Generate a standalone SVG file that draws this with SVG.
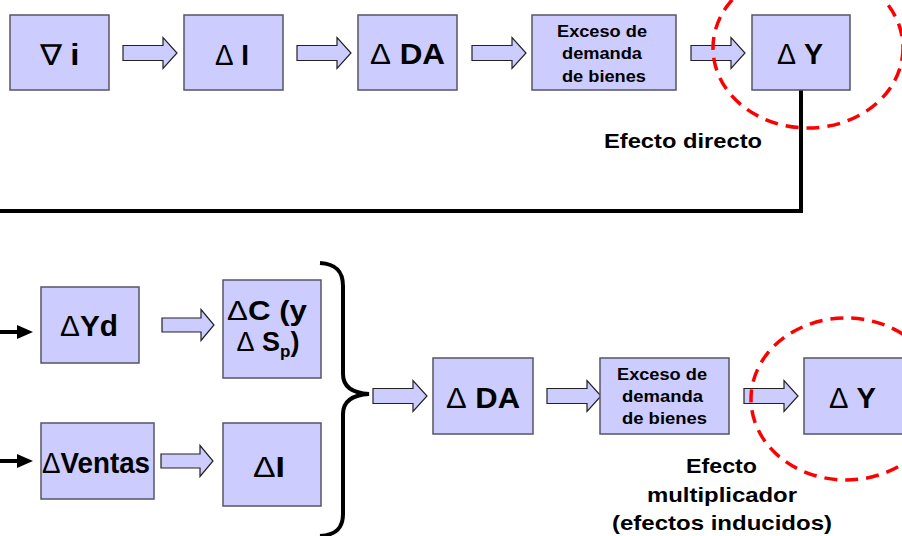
<svg xmlns="http://www.w3.org/2000/svg" width="902" height="536" viewBox="0 0 902 536">
<style>
.box{fill:#CCCCFF;stroke:#555566;stroke-width:1.5}
.blk{fill:#CCCCFF;stroke:#222;stroke-width:1.2}
.t{font-family:"Liberation Sans",Arial,sans-serif;font-weight:bold;fill:#000}
.big{font-size:29px}
.mid{font-size:27px}
.sm{font-size:17px}
.lab{font-size:21px}
.d{font-weight:normal}
.line{fill:none;stroke:#000;stroke-width:4}
.ring{fill:none;stroke:#FF0000;stroke-width:3.5;stroke-dasharray:13 8}
</style>
<defs>
<path id="ba" d="M0,-7.5 H40 V-15.5 L54,0 L40,15.5 V7.5 H0 Z"/>
<path id="ba2" d="M0,-7 H39 V-15.5 L52,0 L39,15.5 V7 H0 Z"/>
</defs>
<rect width="902" height="536" fill="#fff"/>

<g id="connectors">
<use href="#ba" class="blk" transform="translate(123,53)"/>
<use href="#ba" class="blk" transform="translate(297,53)"/>
<use href="#ba" class="blk" transform="translate(472,53)"/>
<use href="#ba" class="blk" transform="translate(691,53)"/>
<polyline class="line" points="801,90 801,211 -2,211"/>
<line x1="-2" y1="332" x2="20" y2="332" stroke="#000" stroke-width="4"/>
<polygon points="17,325 33,332 17,339" fill="#000"/>
<line x1="-2" y1="461" x2="20" y2="461" stroke="#000" stroke-width="4"/>
<polygon points="17,454 33,461 17,468" fill="#000"/>
<use href="#ba2" class="blk" transform="translate(162,325)"/>
<use href="#ba2" class="blk" transform="translate(161,461)"/>
<path class="line" d="M320,263 C336,264 343,271 343,286 L343,374 C343,386 352,393 369,394 C352,395 343,402 343,414 L343,514 C343,528 336,535 320,536"/>
<use href="#ba" class="blk" transform="translate(373,396)"/>
<use href="#ba" class="blk" transform="translate(547,396)"/>
<use href="#ba" class="blk" transform="translate(744,396)"/>
</g>

<g id="n-grad-i">
<rect class="box" x="10" y="15" width="99" height="75"/>
<text class="t big" x="59.5" y="65" text-anchor="middle" textLength="40" lengthAdjust="spacingAndGlyphs"><tspan class="d">∇</tspan> i</text>
</g>
<g id="n-dI">
<rect class="box" x="184" y="15" width="99" height="75"/>
<text class="t big" x="232" y="65" text-anchor="middle" textLength="34" lengthAdjust="spacingAndGlyphs"><tspan class="d">Δ</tspan> I</text>
</g>
<g id="n-dDA">
<rect class="box" x="358" y="15" width="99" height="75"/>
<text class="t big" x="407.5" y="64" text-anchor="middle" textLength="75" lengthAdjust="spacingAndGlyphs"><tspan class="d">Δ</tspan> DA</text>
</g>
<g id="n-exceso1">
<rect class="box" x="532" y="15" width="144" height="75"/>
<text class="t sm" x="602" y="37" text-anchor="middle" textLength="90" lengthAdjust="spacingAndGlyphs">Exceso de</text>
<text class="t sm" x="602" y="59" text-anchor="middle" textLength="80" lengthAdjust="spacingAndGlyphs">demanda</text>
<text class="t sm" x="604" y="82" text-anchor="middle" textLength="84" lengthAdjust="spacingAndGlyphs">de bienes</text>
</g>
<g id="n-dY1">
<rect class="box" x="752" y="15" width="98" height="75"/>
<text class="t big" x="800" y="64" text-anchor="middle" textLength="46" lengthAdjust="spacingAndGlyphs"><tspan class="d">Δ</tspan> Y</text>
</g>
<ellipse class="ring" cx="808" cy="48" rx="95" ry="80"/>
<text class="t lab" x="683" y="148" text-anchor="middle" textLength="158" lengthAdjust="spacingAndGlyphs">Efecto directo</text>

<g id="n-dYd">
<rect class="box" x="41" y="287" width="98" height="76"/>
<text class="t big" x="89" y="336" text-anchor="middle" textLength="58" lengthAdjust="spacingAndGlyphs"><tspan class="d">Δ</tspan>Yd</text>
</g>
<g id="n-dC">
<rect class="box" x="223" y="280" width="98" height="98"/>
<text class="t mid" x="267" y="320" text-anchor="middle" textLength="80" lengthAdjust="spacingAndGlyphs"><tspan class="d">Δ</tspan>C (y</text>
<text class="t mid" x="268" y="351" text-anchor="middle"><tspan class="d">Δ</tspan> S<tspan font-size="17" dy="6">p</tspan><tspan dy="-6">)</tspan></text>
</g>
<g id="n-dVentas">
<rect class="box" x="41" y="423" width="113" height="76"/>
<text class="t big" x="96" y="473" text-anchor="middle" textLength="108" lengthAdjust="spacingAndGlyphs"><tspan class="d">Δ</tspan>Ventas</text>
</g>
<g id="n-dI2">
<rect class="box" x="223" y="423" width="98" height="83"/>
<text class="t big" x="269" y="477" text-anchor="middle" textLength="32" lengthAdjust="spacingAndGlyphs"><tspan class="d">Δ</tspan>I</text>
</g>
<g id="n-dDA2">
<rect class="box" x="433" y="358" width="100" height="76"/>
<text class="t big" x="483" y="408" text-anchor="middle" textLength="74" lengthAdjust="spacingAndGlyphs"><tspan class="d">Δ</tspan> DA</text>
</g>
<g id="n-exceso2">
<rect class="box" x="600" y="358" width="129" height="76"/>
<text class="t sm" x="662" y="380" text-anchor="middle" textLength="90" lengthAdjust="spacingAndGlyphs">Exceso de</text>
<text class="t sm" x="662.5" y="402" text-anchor="middle" textLength="81" lengthAdjust="spacingAndGlyphs">demanda</text>
<text class="t sm" x="664.5" y="424" text-anchor="middle" textLength="85" lengthAdjust="spacingAndGlyphs">de bienes</text>
</g>
<g id="n-dY2">
<rect class="box" x="804" y="358" width="100" height="76"/>
<text class="t big" x="852.5" y="408" text-anchor="middle" textLength="47" lengthAdjust="spacingAndGlyphs"><tspan class="d">Δ</tspan> Y</text>
</g>
<ellipse class="ring" cx="846" cy="399" rx="95" ry="81"/>
<text class="t lab" x="721.5" y="473" text-anchor="middle" textLength="71" lengthAdjust="spacingAndGlyphs">Efecto</text>
<text class="t lab" x="722" y="502" text-anchor="middle" textLength="150" lengthAdjust="spacingAndGlyphs">multiplicador</text>
<text class="t lab" x="722" y="530" text-anchor="middle" textLength="220" lengthAdjust="spacingAndGlyphs">(efectos inducidos)</text>
</svg>
